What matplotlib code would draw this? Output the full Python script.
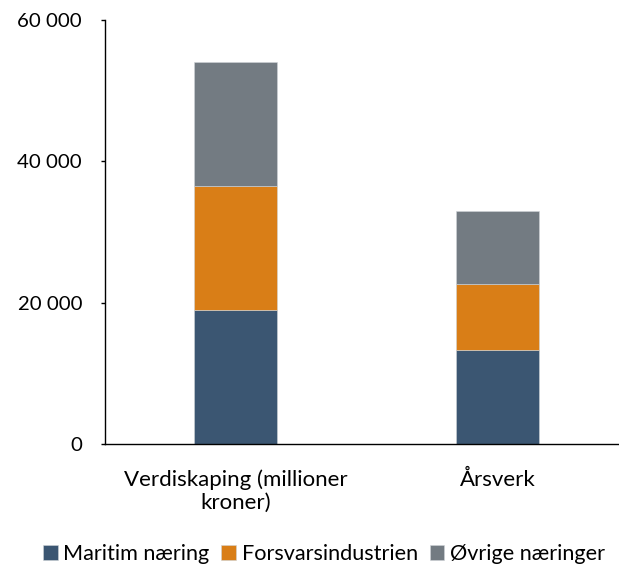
import matplotlib.pyplot as plt
from matplotlib.ticker import FuncFormatter

plt.rcParams['font.family'] = ['Lato', 'DejaVu Sans']

categories = ['Verdiskaping (millioner\nkroner)', 'Årsverk']
maritim = [19000, 13300]
forsvar = [17500, 9400]
ovrige = [17500, 10300]

colors = ['#3B5672', '#D97E17', '#737B82']
labels = ['Maritim næring', 'Forsvarsindustrien', 'Øvrige næringer']

fig = plt.figure(figsize=(6.19, 5.69), dpi=100)
ax = fig.add_axes([0.1696, 0.2197, 0.8304, 0.7452])

x = [0, 1]
w = 0.315
bottom2 = [a + b for a, b in zip(maritim, forsvar)]
ax.bar(x, maritim, w, color=colors[0], label=labels[0], edgecolor='#d0d4d8', linewidth=0.4)
ax.bar(x, forsvar, w, bottom=maritim, color=colors[1], label=labels[1], edgecolor='#d0d4d8', linewidth=0.4)
ax.bar(x, ovrige, w, bottom=bottom2, color=colors[2], label=labels[2], edgecolor='#d0d4d8', linewidth=0.4)

ax.set_xlim(-0.498, 1.464)
ax.set_ylim(0, 60000)
ax.set_yticks([0, 20000, 40000, 60000])
ax.yaxis.set_major_formatter(FuncFormatter(lambda v, p: f"{int(v):,}".replace(",", " ")))
ax.set_xticks(x)
ax.set_xticklabels(categories, fontsize=16, linespacing=1.15)
ax.tick_params(axis='x', length=0, pad=18.5)
ax.tick_params(axis='y', length=3, width=1, labelsize=14.7, pad=13.5)
for s in ['top', 'right']:
    ax.spines[s].set_visible(False)
for s in ['left', 'bottom']:
    ax.spines[s].set_linewidth(1)
    ax.spines[s].set_color('black')

fig.legend(loc='center', bbox_to_anchor=(324 / 619, 1 - 554 / 569), ncol=3, frameon=False,
           fontsize=15.6, handlelength=0.68, handleheight=0.68, handletextpad=0.25, columnspacing=0.55,
           borderpad=0)

fig.savefig('out.png', dpi=100)
